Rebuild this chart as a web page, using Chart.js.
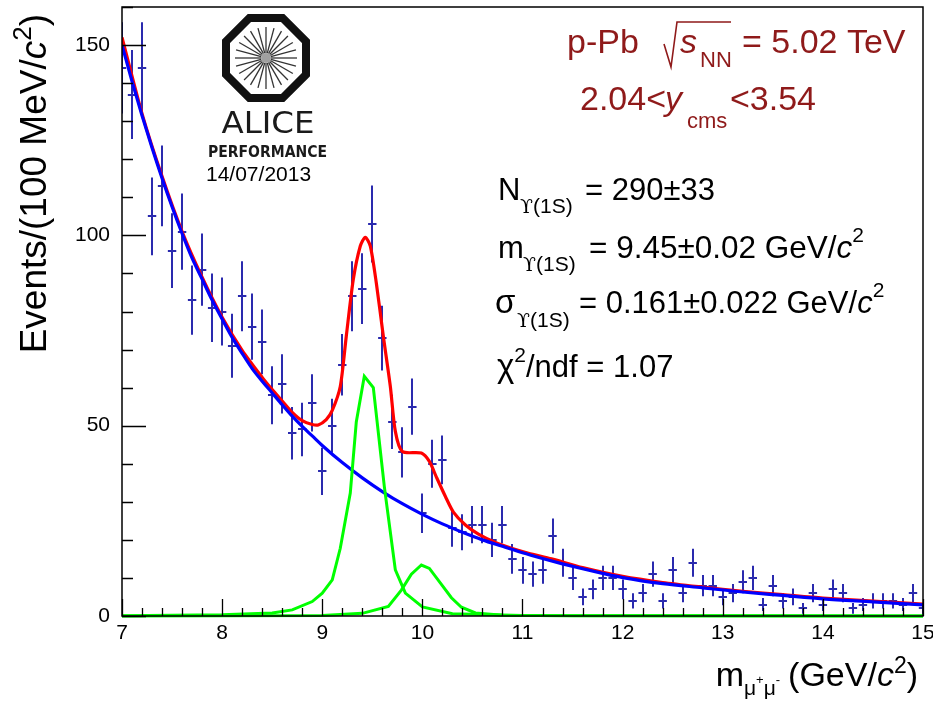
<!DOCTYPE html>
<html>
<head>
<meta charset="utf-8">
<script src="https://cdn.jsdelivr.net/npm/chart.js@4.4.0/dist/chart.umd.min.js"></script>
<style>
  html, body { margin: 0; padding: 0; background: #ffffff; }
  canvas { display: block; }
</style>
</head>
<body>
<canvas id="c" width="933" height="705"></canvas>
<script>
// ---------------- DATA ----------------
// Dimuon invariant mass bin centres (GeV/c^2), 100 MeV bins
const massBins = [7.0, 7.1, 7.2, 7.3, 7.4, 7.5, 7.6, 7.7, 7.8, 7.9,
                  8.0, 8.1, 8.2, 8.3, 8.4, 8.5, 8.6, 8.7, 8.8, 8.9,
                  9.0, 9.1, 9.2, 9.3, 9.4, 9.5, 9.6, 9.7, 9.8, 9.9,
                  10.0, 10.1, 10.2, 10.3, 10.4, 10.5, 10.6, 10.7, 10.8, 10.9,
                  11.0, 11.1, 11.2, 11.3, 11.4, 11.5, 11.6, 11.7, 11.8, 11.9,
                  12.0, 12.1, 12.2, 12.3, 12.4, 12.5, 12.6, 12.7, 12.8, 12.9,
                  13.0, 13.1, 13.2, 13.3, 13.4, 13.5, 13.6, 13.7, 13.8, 13.9,
                  14.0, 14.1, 14.2, 14.3, 14.4, 14.5, 14.6, 14.7, 14.8, 14.9, 15.0];
// Events per bin
const counts = [144, 137, 144, 105, 113, 96, 101, 83, 91, 81,
                80, 71, 84, 76, 72, 58, 61, 48, 49, 56,
                38, 50, 66, 84, 86, 103, 73, 51, 43, 55,
                27, 40, 41, 23, 22, 24, 24, 20, 24, 15,
                12, 11, 12, 21, 14, 10, 5, 7, 10, 10,
                7, 4, 6, 11, 4, 12, 6, 14, 8, 8,
                5, 6, 9, 10, 3, 8, 4, 5, 2, 6,
                3, 7, 6, 2, 3, 4, 4, 4, 3, 6, 2];
// Statistical error bars (half lengths) as drawn
const errors = [12.0, 11.7, 12.0, 10.2, 10.6, 9.8, 10.0, 9.1, 9.5, 9.0,
                8.9, 8.4, 9.2, 8.7, 8.5, 7.6, 7.8, 6.9, 7.0, 7.5,
                6.2, 7.1, 8.1, 9.2, 9.3, 10.1, 8.5, 7.1, 6.6, 7.4,
                5.2, 6.3, 6.4, 4.8, 4.7, 4.9, 4.9, 4.5, 4.9, 3.9,
                3.5, 3.3, 3.5, 4.6, 3.7, 3.2, 2.2, 2.6, 3.2, 3.2,
                2.6, 2.0, 2.4, 3.3, 2.0, 3.5, 2.4, 3.7, 2.8, 2.8,
                2.2, 2.4, 3.0, 3.2, 1.7, 2.8, 2.0, 2.2, 1.4, 2.4,
                1.7, 2.6, 2.4, 1.4, 1.7, 2.0, 2.0, 2.0, 1.7, 2.4, 1.4];

// Background fit (blue curve)
const bkgX = [7.0, 7.1, 7.2, 7.3, 7.4, 7.5, 7.6, 7.7, 7.8, 7.9, 8.0, 8.1, 8.2, 8.3, 8.4, 8.5,
              8.6, 8.7, 8.8, 8.9, 9.0, 9.2, 9.4, 9.6, 9.8, 10.0, 10.2, 10.4, 10.6, 10.8,
              11.0, 11.2, 11.4, 11.6, 11.8, 12.0, 12.4, 12.8, 13.2, 13.6, 14.0, 14.5, 15.0];
const bkgY = [150, 140.5, 131.5, 123, 115, 107.5, 100.5, 94, 88.5, 83, 78, 73.2, 69, 65, 61.7, 58.6,
              55.5, 52.5, 49.8, 47.3, 44.8, 40.3, 36.3, 32.7, 29.5, 26.7, 24.2, 22.0, 20.0, 18.3,
              16.6, 15.1, 13.7, 12.4, 11.2, 10.1, 8.5, 7.4, 6.3, 5.4, 4.5, 3.7, 2.9];

// Total fit (red curve)
const totX = [7.0, 7.2, 7.4, 7.6, 7.8, 8.0, 8.2, 8.4, 8.5, 8.6, 8.7, 8.8, 8.9, 8.96, 9.04,
              9.1, 9.18, 9.24, 9.31, 9.38, 9.43, 9.48, 9.54, 9.61, 9.68, 9.73, 9.8, 9.99,
              10.07, 10.14, 10.23, 10.31, 10.43, 10.56, 10.73, 10.89, 11.06, 11.29, 11.6,
              12.0, 12.4, 12.8, 13.2, 13.6, 14.0, 14.5, 15.0];
const totY = [152, 132, 115.5, 101, 89, 78.5, 69.8, 62.7, 59.5, 56.5, 53.5, 51.3, 50.3, 50.2, 51.6,
              54, 60.3, 73.5, 88.4, 97.2, 99.5, 97.2, 87.5, 73.5, 60.3, 48.5, 43.2, 42.8,
              40.6, 36.5, 31.4, 27.3, 23.9, 21.5, 19.3, 17.8, 16.5, 15.0, 12.7,
              10.4, 8.8, 7.6, 6.5, 5.6, 4.7, 3.9, 3.1];

// Upsilon(1S) signal shape (green)
const ups1X = [7.0, 8.0, 8.5, 8.7, 8.9, 9.0, 9.1, 9.18, 9.28, 9.34, 9.42, 9.51, 9.62, 9.73, 9.83,
               10.0, 10.3, 11.0, 15.0];
const ups1Y = [0.05, 0.3, 0.8, 1.6, 3.8, 6.0, 9.5, 17.8, 32.3, 51, 63, 60, 34, 12.1, 6,
               2.4, 0.6, 0.1, 0];
// Upsilon(2S) signal shape (green)
const ups2X = [7.0, 9.0, 9.4, 9.66, 9.79, 9.89, 9.99, 10.07, 10.19, 10.29, 10.39, 10.53, 10.8, 11.5, 15.0];
const ups2Y = [0, 0.1, 0.7, 2.5, 6.8, 11, 13.4, 12.5, 8.3, 4.8, 2.3, 0.8, 0.2, 0.05, 0];

// Axis tick labels
const xTickLabels = [7, 8, 9, 10, 11, 12, 13, 14, 15];
const yTickLabels = [0, 50, 100, 150];
const xMinorStep = 0.2;
const yMinorStep = 10;

// ---------------- STYLE ----------------
const FONT = '"Liberation Sans", Arial, Helvetica, sans-serif';
const pointColor = '#2a2aae';
const darkRed = '#8f1a1a';

const toXY = (xs, ys) => xs.map((x, i) => ({ x: x, y: ys[i] }));

// error bars + markers of the data histogram (drawn under the fit curves)
const errBarPlugin = {
  id: 'errbars',
  beforeDatasetsDraw(chart) {
    const { ctx, chartArea: a } = chart;
    const x = chart.scales.x, y = chart.scales.y;
    ctx.save();
    ctx.beginPath();
    ctx.rect(a.left, a.top, a.right - a.left, a.bottom - a.top + 1);
    ctx.clip();
    ctx.strokeStyle = pointColor;
    ctx.lineWidth = 2;
    massBins.forEach((m, i) => {
      const px = Math.round(x.getPixelForValue(m));
      const py = Math.round(y.getPixelForValue(counts[i]));
      ctx.beginPath();
      ctx.moveTo(px, y.getPixelForValue(counts[i] - errors[i]));
      ctx.lineTo(px, y.getPixelForValue(counts[i] + errors[i]));
      ctx.moveTo(x.getPixelForValue(m - 0.042), py);
      ctx.lineTo(x.getPixelForValue(m + 0.042), py);
      ctx.stroke();
    });
    ctx.restore();
  }
};

// frame, inner ticks
const framePlugin = {
  id: 'frame',
  afterDatasetsDraw(chart) {
    const { ctx, chartArea: a } = chart;
    const x = chart.scales.x, y = chart.scales.y;
    ctx.save();
    ctx.strokeStyle = '#000';
    ctx.lineWidth = 1.5;
    ctx.strokeRect(a.left, a.top, a.right - a.left, a.bottom - a.top);
    ctx.lineWidth = 1.3;
    ctx.beginPath();
    for (let v = x.min; v <= x.max + 1e-6; v += xMinorStep) {
      const px = Math.round(x.getPixelForValue(v)) + 0.5;
      const major = xTickLabels.some(t => Math.abs(t - v) < 1e-6);
      ctx.moveTo(px, a.bottom);
      ctx.lineTo(px, a.bottom - (major ? 17 : 8));
    }
    for (let v = y.min; v <= y.max + 1e-6; v += yMinorStep) {
      const py = Math.round(y.getPixelForValue(v)) + 0.5;
      const major = yTickLabels.some(t => Math.abs(t - v) < 1e-6);
      ctx.moveTo(a.left, py);
      ctx.lineTo(a.left + (major ? 24 : 11), py);
    }
    ctx.stroke();
    ctx.restore();
  }
};

function rich(ctx, x, y, parts, color) {
  let cx = x;
  for (const p of parts) {
    ctx.font = (p.it ? 'italic ' : '') + (p.b ? 'bold ' : '') + p.s + 'px ' + (p.fam || FONT);
    ctx.fillStyle = p.c || color;
    ctx.fillText(p.t, cx, y + (p.dy || 0));
    cx += ctx.measureText(p.t).width + (p.gap || 0);
  }
  return cx;
}
function richWidth(ctx, parts) {
  let w = 0;
  for (const p of parts) {
    ctx.font = (p.it ? 'italic ' : '') + (p.b ? 'bold ' : '') + p.s + 'px ' + (p.fam || FONT);
    w += ctx.measureText(p.t).width + (p.gap || 0);
  }
  return w;
}

// titles, annotations, logo
const textPlugin = {
  id: 'texts',
  afterDraw(chart) {
    const ctx = chart.ctx;
    ctx.save();
    ctx.textBaseline = 'alphabetic';
    ctx.textAlign = 'left';

    // ---- y axis title (rotated), right-aligned near the frame top
    const yTitle = [
      { t: 'Events/(100 MeV/', s: 37 },
      { t: 'c', s: 37, it: true },
      { t: '2', s: 26, dy: -15 },
      { t: ')', s: 37 }
    ];
    const yw = richWidth(ctx, yTitle);
    ctx.save();
    ctx.translate(46, 14);
    ctx.rotate(-Math.PI / 2);
    rich(ctx, -yw, 0, yTitle, '#000');
    ctx.restore();

    // ---- x axis title, right-aligned to the axis end
    const xTitle = [
      { t: 'm', s: 34 },
      { t: 'μ', s: 21, dy: 9 },
      { t: '+', s: 13, dy: -2 },
      { t: 'μ', s: 21, dy: 9 },
      { t: '-', s: 13, dy: -2, gap: 8 },
      { t: '(GeV/', s: 34 },
      { t: 'c', s: 34, it: true },
      { t: '2', s: 23, dy: -13 },
      { t: ')', s: 34 }
    ];
    const xw = richWidth(ctx, xTitle);
    rich(ctx, 918 - xw, 686, xTitle, '#000');

    // ---- collision system (dark red)
    rich(ctx, 567, 53, [{ t: 'p-Pb', s: 34 }], darkRed);
    ctx.strokeStyle = darkRed;
    ctx.lineWidth = 1.6;
    ctx.beginPath();
    ctx.moveTo(664, 44);
    ctx.lineTo(671, 67);
    ctx.lineTo(677, 22);
    ctx.lineTo(731, 22);
    ctx.stroke();
    rich(ctx, 680, 53, [{ t: 's', s: 34, it: true }], darkRed);
    rich(ctx, 700, 67, [{ t: 'NN', s: 22 }], darkRed);
    rich(ctx, 742, 53, [{ t: '= 5.02 TeV', s: 34 }], darkRed);

    rich(ctx, 580, 110, [{ t: '2.04<', s: 34 }], darkRed);
    rich(ctx, 665, 110, [{ t: 'y', s: 34, it: true }], darkRed);
    rich(ctx, 687, 128, [{ t: 'cms', s: 22 }], darkRed);
    rich(ctx, 730, 110, [{ t: '<3.54', s: 34 }], darkRed);

    // ---- fit results (black)
    const UPS = 'ϒ';
    const SERIF = '"DejaVu Serif", "Liberation Serif", serif';
    rich(ctx, 498, 200, [{ t: 'N', s: 31 }], '#000');
    rich(ctx, 520, 213, [{ t: UPS, s: 19, fam: SERIF }, { t: '(1S)', s: 21 }], '#000');
    rich(ctx, 585, 200, [{ t: '= 290±33', s: 31 }], '#000');

    rich(ctx, 498, 258, [{ t: 'm', s: 31 }], '#000');
    rich(ctx, 523, 271, [{ t: UPS, s: 19, fam: SERIF }, { t: '(1S)', s: 21 }], '#000');
    rich(ctx, 589, 258, [{ t: '= 9.45±0.02 GeV/', s: 31.5 }, { t: 'c', s: 31.5, it: true },
                         { t: '2', s: 21, dy: -16 }], '#000');

    rich(ctx, 495, 313, [{ t: 'σ', s: 33 }], '#000');
    rich(ctx, 517, 327, [{ t: UPS, s: 19, fam: SERIF }, { t: '(1S)', s: 21 }], '#000');
    rich(ctx, 579, 313, [{ t: '= 0.161±0.022 GeV/', s: 31 }, { t: 'c', s: 31, it: true },
                         { t: '2', s: 21, dy: -16 }], '#000');

    rich(ctx, 497, 377, [{ t: 'χ', s: 33 }, { t: '2', s: 21, dy: -15 },
                         { t: '/ndf = 1.07', s: 31 }], '#000');

    // ---- ALICE performance logo
    const lx = 266, ly = 58;
    ctx.strokeStyle = '#111';
    ctx.lineWidth = 8;
    ctx.lineJoin = 'miter';
    ctx.beginPath();
    const R = 40 / Math.cos(Math.PI / 8);
    for (let k = 0; k <= 8; k++) {
      const ang = Math.PI / 8 + k * Math.PI / 4;
      const px = lx + R * Math.cos(ang), py = ly + R * Math.sin(ang);
      if (k === 0) ctx.moveTo(px, py); else ctx.lineTo(px, py);
    }
    ctx.closePath();
    ctx.stroke();
    ctx.lineWidth = 1.3;
    ctx.strokeStyle = '#333';
    for (let k = 0; k < 24; k++) {
      const ang = k * Math.PI / 12;
      ctx.beginPath();
      ctx.moveTo(lx + 5 * Math.cos(ang), ly + 5 * Math.sin(ang));
      ctx.lineTo(lx + 31 * Math.cos(ang), ly + 31 * Math.sin(ang));
      ctx.stroke();
    }
    ctx.fillStyle = '#a0a0a0';
    ctx.beginPath();
    ctx.arc(lx, ly, 5, 0, 2 * Math.PI);
    ctx.fill();

    function fitText(txt, font, cx, base, width, color) {
      ctx.font = font;
      const w = ctx.measureText(txt).width;
      ctx.save();
      ctx.translate(cx - width / 2, base);
      ctx.scale(width / w, 1);
      ctx.fillStyle = color;
      ctx.fillText(txt, 0, 0);
      ctx.restore();
    }
    fitText('ALICE', '30px "DejaVu Sans", sans-serif', 268, 133, 93, '#1a1a1a');
    fitText('PERFORMANCE', 'bold 16px "DejaVu Sans", sans-serif', 267.5, 157, 119, '#1a1a1a');
    ctx.font = '21px ' + FONT;
    ctx.fillStyle = '#000';
    ctx.fillText('14/07/2013', 206, 181);

    ctx.restore();
  }
};

function zeroPadding(s) {
  s.paddingLeft = 0; s.paddingRight = 0; s.paddingTop = 0; s.paddingBottom = 0;
}

new Chart(document.getElementById('c'), {
  type: 'scatter',
  data: {
    datasets: [
      { label: 'data', data: toXY(massBins, counts), pointRadius: 0, showLine: false, order: 10 },
      { label: 'total fit', type: 'line', data: toXY(totX, totY), borderColor: '#ff0000',
        borderWidth: 3.2, pointRadius: 0, fill: false, tension: 0.25, order: 4 },
      { label: 'background', type: 'line', data: toXY(bkgX, bkgY), borderColor: '#0000ff',
        borderWidth: 3.2, pointRadius: 0, fill: false, cubicInterpolationMode: 'monotone', order: 3 },
      { label: 'Upsilon(1S)', type: 'line', data: toXY(ups1X, ups1Y), borderColor: '#00ff00',
        borderWidth: 3, pointRadius: 0, fill: false, tension: 0, order: 2,
        clip: { left: 0, top: 0, right: 0, bottom: 3 } },
      { label: 'Upsilon(2S)', type: 'line', data: toXY(ups2X, ups2Y), borderColor: '#00ff00',
        borderWidth: 3, pointRadius: 0, fill: false, tension: 0, order: 1,
        clip: { left: 0, top: 0, right: 0, bottom: 3 } }
    ]
  },
  options: {
    responsive: false,
    animation: false,
    devicePixelRatio: 1,
    layout: { padding: { top: 7, right: 10, left: 0, bottom: 0 } },
    plugins: { legend: { display: false }, tooltip: { enabled: false }, title: { display: false } },
    scales: {
      x: {
        type: 'linear', min: 7, max: 15,
        afterFit(s) { s.height = 89; zeroPadding(s); },
        afterBuildTicks(s) { s.ticks = xTickLabels.map(v => ({ value: v })); },
        grid: { display: false, drawTicks: false },
        border: { display: false },
        ticks: { color: '#000', font: { family: FONT, size: 21 }, padding: 5,
                 maxRotation: 0, autoSkip: false }
      },
      y: {
        type: 'linear', min: 0, max: 160,
        afterFit(s) { s.width = 122; zeroPadding(s); },
        afterBuildTicks(s) { s.ticks = yTickLabels.map(v => ({ value: v })); },
        grid: { display: false, drawTicks: false },
        border: { display: false },
        ticks: { color: '#000', font: { family: FONT, size: 21 }, padding: 12, autoSkip: false }
      }
    }
  },
  plugins: [errBarPlugin, framePlugin, textPlugin]
});
</script>
</body>
</html>
